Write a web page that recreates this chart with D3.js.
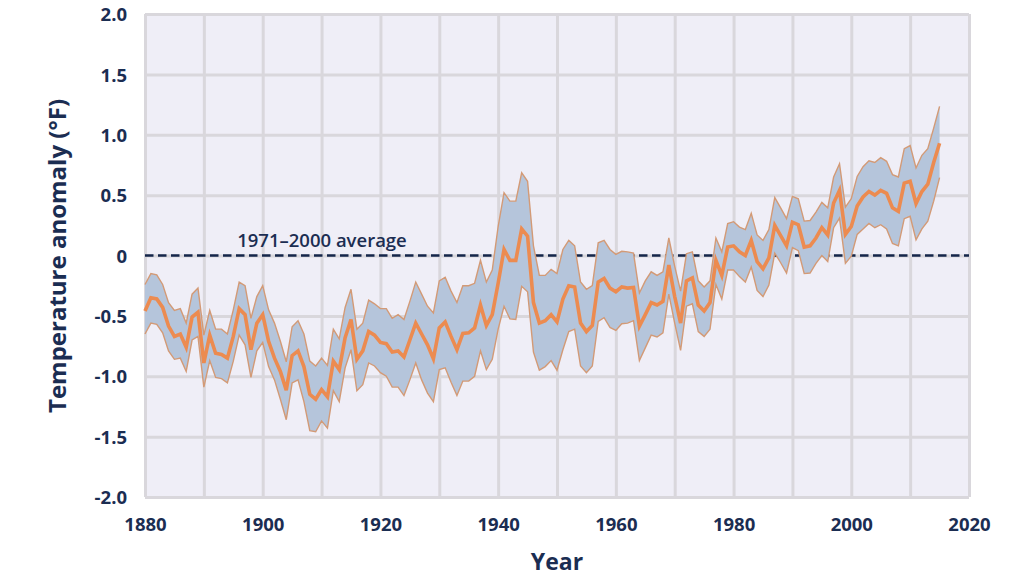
<!DOCTYPE html>
<html>
<head>
<meta charset="utf-8">
<script src="https://cdn.jsdelivr.net/npm/d3@7"></script>
<style>
html, body { margin: 0; padding: 0; background: #fff; }
svg { display: block; }
text { font-family: "Open Sans", sans-serif; font-weight: 700; fill: #1b2d52; }
</style>
</head>
<body>
<svg id="chart" width="1024" height="576"></svg>
<script>
var firstYear = 1880
var xTicks = [1880, 1900, 1920, 1940, 1960, 1980, 2000, 2020]
var xGrid = [1890, 1900, 1910, 1920, 1930, 1940, 1950, 1960, 1970, 1980, 1990, 2000, 2010]
var yTicks = [2, 1.5, 1, 0.5, 0, -0.5, -1, -1.5, -2]
var yLabels = ["2.0", "1.5", "1.0", "0.5", "0", "-0.5", "-1.0", "-1.5", "-2.0"]

// anomaly per year, 1880 to 2015
var anomaly = [
  -0.46,-0.35,-0.36,-0.43,-0.585,-0.67,-0.65,-0.76,-0.51,-0.47,
  -0.89,-0.66,-0.81,-0.82,-0.85,-0.67,-0.44,-0.49,-0.78,-0.56,
  -0.49,-0.71,-0.85,-0.96,-1.115,-0.83,-0.79,-0.92,-1.15,-1.19,
  -1.11,-1.17,-0.875,-0.945,-0.68,-0.53,-0.86,-0.79,-0.63,-0.66,
  -0.72,-0.73,-0.80,-0.79,-0.84,-0.70,-0.56,-0.65,-0.74,-0.855,
  -0.60,-0.55,-0.67,-0.78,-0.645,-0.64,-0.60,-0.41,-0.58,-0.49,
  -0.23,0.05,-0.04,-0.04,0.22,0.16,-0.39,-0.56,-0.54,-0.49,
  -0.55,-0.36,-0.25,-0.26,-0.56,-0.63,-0.58,-0.22,-0.19,-0.27,
  -0.30,-0.26,-0.27,-0.265,-0.585,-0.49,-0.39,-0.41,-0.38,-0.08,
  -0.34,-0.56,-0.21,-0.185,-0.41,-0.46,-0.39,-0.04,-0.165,0.07,
  0.08,0.03,0,0.125,-0.05,-0.11,-0.02,0.25,0.165,0.08,
  0.275,0.255,0.07,0.08,0.145,0.23,0.17,0.435,0.54,0.175,
  0.24,0.41,0.485,0.53,0.50,0.54,0.515,0.395,0.365,0.60,
  0.615,0.43,0.53,0.59,0.77,0.93
]
var upper = [
  -0.24,-0.15,-0.16,-0.24,-0.39,-0.455,-0.44,-0.56,-0.32,-0.27,
  -0.66,-0.455,-0.61,-0.61,-0.65,-0.45,-0.22,-0.25,-0.52,-0.34,
  -0.25,-0.45,-0.56,-0.71,-0.88,-0.59,-0.54,-0.65,-0.875,-0.915,
  -0.85,-0.91,-0.61,-0.69,-0.43,-0.28,-0.61,-0.56,-0.37,-0.40,
  -0.44,-0.44,-0.52,-0.49,-0.53,-0.38,-0.22,-0.32,-0.42,-0.475,
  -0.21,-0.18,-0.295,-0.39,-0.25,-0.25,-0.23,-0.04,-0.22,-0.12,
  0.24,0.52,0.45,0.45,0.685,0.615,0.08,-0.165,-0.165,-0.115,
  -0.15,0.05,0.125,0.08,-0.22,-0.28,-0.25,0.105,0.125,0.05,
  0.01,0.035,0.03,0.02,-0.31,-0.21,-0.135,-0.165,-0.135,0.145,
  -0.09,-0.295,0.015,0.03,-0.21,-0.26,-0.21,0.145,0.03,0.265,
  0.28,0.235,0.215,0.35,0.17,0.125,0.215,0.48,0.395,0.305,
  0.49,0.47,0.285,0.29,0.36,0.44,0.395,0.65,0.76,0.40,
  0.47,0.655,0.735,0.785,0.77,0.81,0.78,0.67,0.65,0.885,
  0.91,0.725,0.83,0.885,1.055,1.235
]
var lower = [
  -0.65,-0.56,-0.57,-0.64,-0.79,-0.86,-0.85,-0.96,-0.70,-0.67,
  -1.09,-0.87,-1.01,-1.02,-1.055,-0.875,-0.66,-0.74,-1.01,-0.79,
  -0.72,-0.92,-1.03,-1.19,-1.36,-1.055,-1.03,-1.21,-1.45,-1.46,
  -1.37,-1.43,-1.12,-1.21,-0.93,-0.78,-1.12,-1.07,-0.89,-0.915,
  -0.97,-1.0,-1.09,-1.09,-1.16,-1.03,-0.89,-1.03,-1.14,-1.21,
  -0.945,-0.93,-1.05,-1.16,-1.04,-1.04,-1.0,-0.79,-0.945,-0.86,
  -0.61,-0.42,-0.525,-0.53,-0.255,-0.30,-0.80,-0.95,-0.92,-0.87,
  -0.95,-0.78,-0.63,-0.61,-0.915,-0.97,-0.915,-0.545,-0.515,-0.595,
  -0.62,-0.565,-0.56,-0.54,-0.87,-0.765,-0.66,-0.675,-0.64,-0.32,
  -0.56,-0.785,-0.42,-0.40,-0.63,-0.67,-0.61,-0.24,-0.36,-0.12,
  -0.12,-0.175,-0.22,-0.095,-0.29,-0.34,-0.245,0.02,-0.06,-0.145,
  0.065,0.04,-0.15,-0.145,-0.065,0,-0.05,0.23,0.31,-0.065,
  -0.005,0.175,0.22,0.265,0.23,0.255,0.22,0.10,0.08,0.305,
  0.325,0.13,0.22,0.285,0.45,0.645
]

var left = 145, right = 969, top_ = 14, bottom = 497
var svg = d3.select("#chart")
var x = d3.scaleLinear().domain([1880, 2020]).range([left, right])
var y = d3.scaleLinear().domain([-2, 2]).range([bottom, top_])
var gridCol = "#d9d7dc"

svg.append("rect").attr("x", left).attr("y", top_)
  .attr("width", right - left).attr("height", bottom - top_).attr("fill", "#efeef7")

// grid lines come from the axes
var gx = svg.append("g").attr("transform", `translate(0,${bottom})`)
  .call(d3.axisBottom(x).tickValues(xGrid.concat([1880, 2020])).tickSize(-(bottom - top_)).tickFormat(""))
var gy = svg.append("g").attr("transform", `translate(${left},0)`)
  .call(d3.axisLeft(y).tickValues(yTicks).tickSize(-(right - left)).tickFormat(""))
svg.selectAll("g .domain").remove()
svg.selectAll("g .tick line").attr("stroke", gridCol).attr("stroke-width", 3)

// average line, sits under the band
svg.append("line").attr("x1", x(1880)).attr("x2", x(2020)).attr("y1", y(0)).attr("y2", y(0))
  .attr("stroke", "#14264a").attr("stroke-width", 2.6).attr("stroke-dasharray", "8.5 4.5")

var rows = anomaly.map(function(d, i) { return { year: firstYear + i, mid: d, hi: upper[i], lo: lower[i] } })

var band = d3.area().x(d => x(d.year)).y0(d => y(d.lo)).y1(d => y(d.hi))
svg.append("path").datum(rows).attr("d", band).attr("fill", "#b5c5db")

var edgeHi = d3.line().x(d => x(d.year)).y(d => y(d.hi))
var edgeLo = d3.line().x(d => x(d.year)).y(d => y(d.lo))
var mid = d3.line().x(d => x(d.year)).y(d => y(d.mid))
svg.append("path").datum(rows).attr("d", edgeHi).attr("fill", "none").attr("stroke", "#d39a76").attr("stroke-width", 1.4)
svg.append("path").datum(rows).attr("d", edgeLo).attr("fill", "none").attr("stroke", "#d39a76").attr("stroke-width", 1.4)
svg.append("path").datum(rows).attr("d", mid).attr("fill", "none").attr("stroke", "#ec8b50").attr("stroke-width", 3.6)

// tick labels
var ax = svg.append("g").attr("transform", `translate(0,${bottom})`)
  .call(d3.axisBottom(x).tickValues(xTicks).tickSize(0).tickPadding(21).tickFormat(d3.format("d")))
var ay = svg.append("g").attr("transform", `translate(${left},0)`)
  .call(d3.axisLeft(y).tickValues(yTicks).tickSize(0).tickPadding(18).tickFormat((d, i) => yLabels[i]))
ax.select(".domain").remove()
ay.select(".domain").remove()
ax.selectAll("text").style("font-size", "18.5px").attr("fill", "#1b2d52")
ay.selectAll("text").style("font-size", "18.5px").attr("fill", "#1b2d52").attr("dy", "0.36em")

svg.append("text").attr("x", 322).attr("y", 247).attr("text-anchor", "middle")
  .style("font-size", "18.5px").style("font-weight", 600).text("1971–2000 average")
svg.append("text").attr("x", 557).attr("y", 570).attr("text-anchor", "middle")
  .style("font-size", "23px").text("Year")
svg.append("text").attr("transform", "translate(66,256) rotate(-90)").attr("text-anchor", "middle")
  .style("font-size", "24px").text("Temperature anomaly (°F)")
</script>
</body>
</html>
